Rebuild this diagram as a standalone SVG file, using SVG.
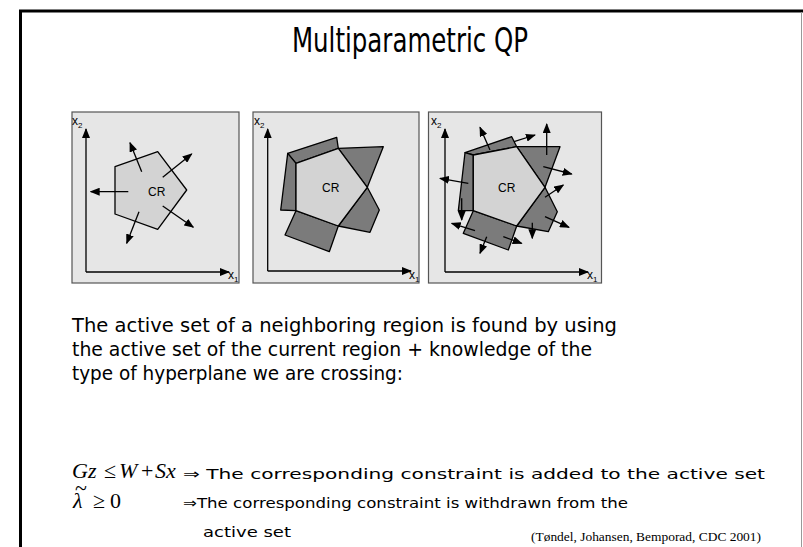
<svg xmlns="http://www.w3.org/2000/svg" width="803" height="547" viewBox="0 0 803 547">
<defs>
<marker id="ah" viewBox="0 0 10 8" refX="9" refY="4" markerWidth="10" markerHeight="8" markerUnits="userSpaceOnUse" orient="auto">
<path d="M0,0 L10,4 L0,8 z" fill="#000"/>
</marker>
</defs>
<style>
.panel{fill:#e6e6e6;stroke:#555;stroke-width:1.2}
.axis{fill:none;stroke:#000;stroke-width:1.3;marker-end:url(#ah)}
.cr{fill:#d3d3d3;stroke:#000;stroke-width:1.3;stroke-linejoin:round}
.dk{fill:#7b7b7b;stroke:#000;stroke-width:1.3;stroke-linejoin:round}
.arr{fill:none;stroke:#000;stroke-width:1.3;marker-end:url(#ah)}
.lbl{font-family:"Liberation Sans",Arial,sans-serif;font-size:12px;fill:#000}
.sub{font-family:"Liberation Sans",Arial,sans-serif;font-size:8px;fill:#000}
.comic{font-family:"Comic Sans MS","DejaVu Sans",sans-serif;fill:#000}
.math{font-family:"Liberation Serif","Times New Roman",serif;font-style:italic;font-size:22px;fill:#000}
.mathr{font-family:"Liberation Serif","Times New Roman",serif;font-size:22px;fill:#000}
</style>
<rect x="0" y="0" width="803" height="547" fill="#fff"/>
<g id="frame">
<line x1="20.5" y1="11" x2="20.5" y2="547" stroke="#000" stroke-width="3"/>
<line x1="19" y1="11" x2="803" y2="11" stroke="#000" stroke-width="3"/>
<line x1="801.5" y1="12" x2="801.5" y2="547" stroke="#999" stroke-width="1"/>
</g>
<g id="title">
<text class="comic" x="410" y="52" font-size="34" text-anchor="middle" textLength="236" lengthAdjust="spacingAndGlyphs">Multiparametric QP</text>
</g>
<g id="panel1">
<rect class="panel" x="72" y="112" width="167" height="171"/>
<polygon class="cr" points="115,166.7 157.7,151.7 186.7,190 157.7,229.3 115,214"/>
<text class="lbl" x="148" y="196">CR</text>
<path class="axis" d="M86,272 L86,129"/>
<path class="axis" d="M86,272 L229,272"/>
<text class="lbl" x="72" y="125" font-size="11">x<tspan class="sub" dy="3">2</tspan></text>
<text class="lbl" x="228" y="279" font-size="11">x<tspan class="sub" dy="3">1</tspan></text>
</g>
<g id="panel2">
<rect class="panel" x="253" y="112" width="166" height="171"/>
<polygon class="dk" points="287.7,153.3 336.7,137.3 338.3,148.3 296,163.3"/>
<polygon class="dk" points="287.7,153.3 296,163.3 296,210.7 280.7,210"/>
<polygon class="dk" points="338.3,148.3 383.3,146.7 367.3,187.3"/>
<polygon class="dk" points="367.3,187.3 379.3,210 370,232.3 338.3,226"/>
<polygon class="dk" points="296,210.7 338.3,226 329.3,251.7 285,235"/>
<polygon class="cr" points="296,163.3 338.3,148.3 367.3,187.3 338.3,226 296,210.7"/>
<text class="lbl" x="322" y="192">CR</text>
<path class="axis" d="M267.7,271 L267.7,129"/>
<path class="axis" d="M267.7,271 L411,271"/>
<text class="lbl" x="254" y="125" font-size="11">x<tspan class="sub" dy="3">2</tspan></text>
<text class="lbl" x="409" y="279" font-size="11">x<tspan class="sub" dy="3">1</tspan></text>
</g>
<g id="panel3">
<rect class="panel" x="428.5" y="112" width="173" height="171"/>
<polygon class="dk" points="465,152.7 511.7,136.7 516.7,146.7 473.3,155"/>
<polygon class="dk" points="465,152.7 473.3,155 473.3,210.7 458.3,210.7"/>
<polygon class="dk" points="516.7,146.7 560,146.7 545,187.3"/>
<polygon class="dk" points="545,187.3 557.3,211.7 548.3,231.7 516.7,226"/>
<polygon class="dk" points="473.3,210.7 516.7,226 508.3,250 463.3,233.3"/>
<polygon class="cr" points="473.3,155 516.7,146.7 545,187.3 516.7,226 473.3,210.7"/>
<text class="lbl" x="498" y="192">CR</text>
<path class="axis" d="M445,272 L445,129"/>
<path class="axis" d="M445,272 L588,272"/>
<text class="lbl" x="431" y="125" font-size="11">x<tspan class="sub" dy="3">2</tspan></text>
<text class="lbl" x="587" y="279" font-size="11">x<tspan class="sub" dy="3">1</tspan></text>
</g>
<g id="connectors">
<path class="arr" d="M141.7,171.7 L130,142.7"/>
<path class="arr" d="M162.7,177.3 L191.7,154"/>
<path class="arr" d="M128.3,191.7 L90.7,191.7"/>
<path class="arr" d="M162.7,206 L193.3,227.3"/>
<path class="arr" d="M139,211.7 L126.7,243.3"/>
<path class="arr" d="M490,150 L480,127.3"/>
<path class="arr" d="M514,141.7 L535,135"/>
<path class="arr" d="M546.7,155 L546.7,124"/>
<path class="arr" d="M543.3,166.7 L571.7,174"/>
<path class="arr" d="M468.3,183.3 L440,178.3"/>
<path class="arr" d="M461.7,198.3 L461.7,220"/>
<path class="arr" d="M545,197.3 L563.3,185"/>
<path class="arr" d="M545,216.7 L569,227.3"/>
<path class="arr" d="M532.3,222.7 L532.3,238.3"/>
<path class="arr" d="M475,230.7 L451.7,223.3"/>
<path class="arr" d="M486.7,236.7 L480,253.3"/>
<path class="arr" d="M503.3,236.7 L521.7,243.3"/>
</g>
<g id="body">
<text class="comic" x="72" y="332" font-size="20" textLength="545" lengthAdjust="spacingAndGlyphs">The active set of a neighboring region is found by using</text>
<text class="comic" x="72" y="356" font-size="20" textLength="520" lengthAdjust="spacingAndGlyphs">the active set of the current region + knowledge of the</text>
<text class="comic" x="72" y="380" font-size="20" textLength="331" lengthAdjust="spacingAndGlyphs">type of hyperplane we are crossing:</text>
</g>
<g id="rule1">
<text class="math" x="72" y="478">Gz</text>
<text class="mathr" x="104" y="478">≤</text>
<text class="math" x="119" y="478">W</text>
<text class="mathr" x="141" y="478">+</text>
<text class="math" x="155" y="478">Sx</text>
<text class="comic" x="183" y="479" font-size="14.5" textLength="582" lengthAdjust="spacingAndGlyphs">⇒ The corresponding constraint is added to the active set</text>
</g>
<g id="rule2">
<text class="math" x="73" y="508">λ</text>
<text class="mathr" x="75" y="495" font-size="14">~</text>
<text class="mathr" x="93" y="508">≥</text>
<text class="mathr" x="110" y="508">0</text>
<text class="comic" x="183" y="508" font-size="14.5" textLength="445" lengthAdjust="spacingAndGlyphs">⇒The corresponding constraint is withdrawn from the</text>
<text class="comic" x="203" y="537" font-size="14.5" textLength="88" lengthAdjust="spacingAndGlyphs">active set</text>
</g>
<g id="citation">
<text x="531" y="541" font-family="'Liberation Serif','Times New Roman',serif" font-size="12.5" textLength="230" lengthAdjust="spacingAndGlyphs">(Tøndel, Johansen, Bemporad, CDC 2001)</text>
</g>
</svg>
